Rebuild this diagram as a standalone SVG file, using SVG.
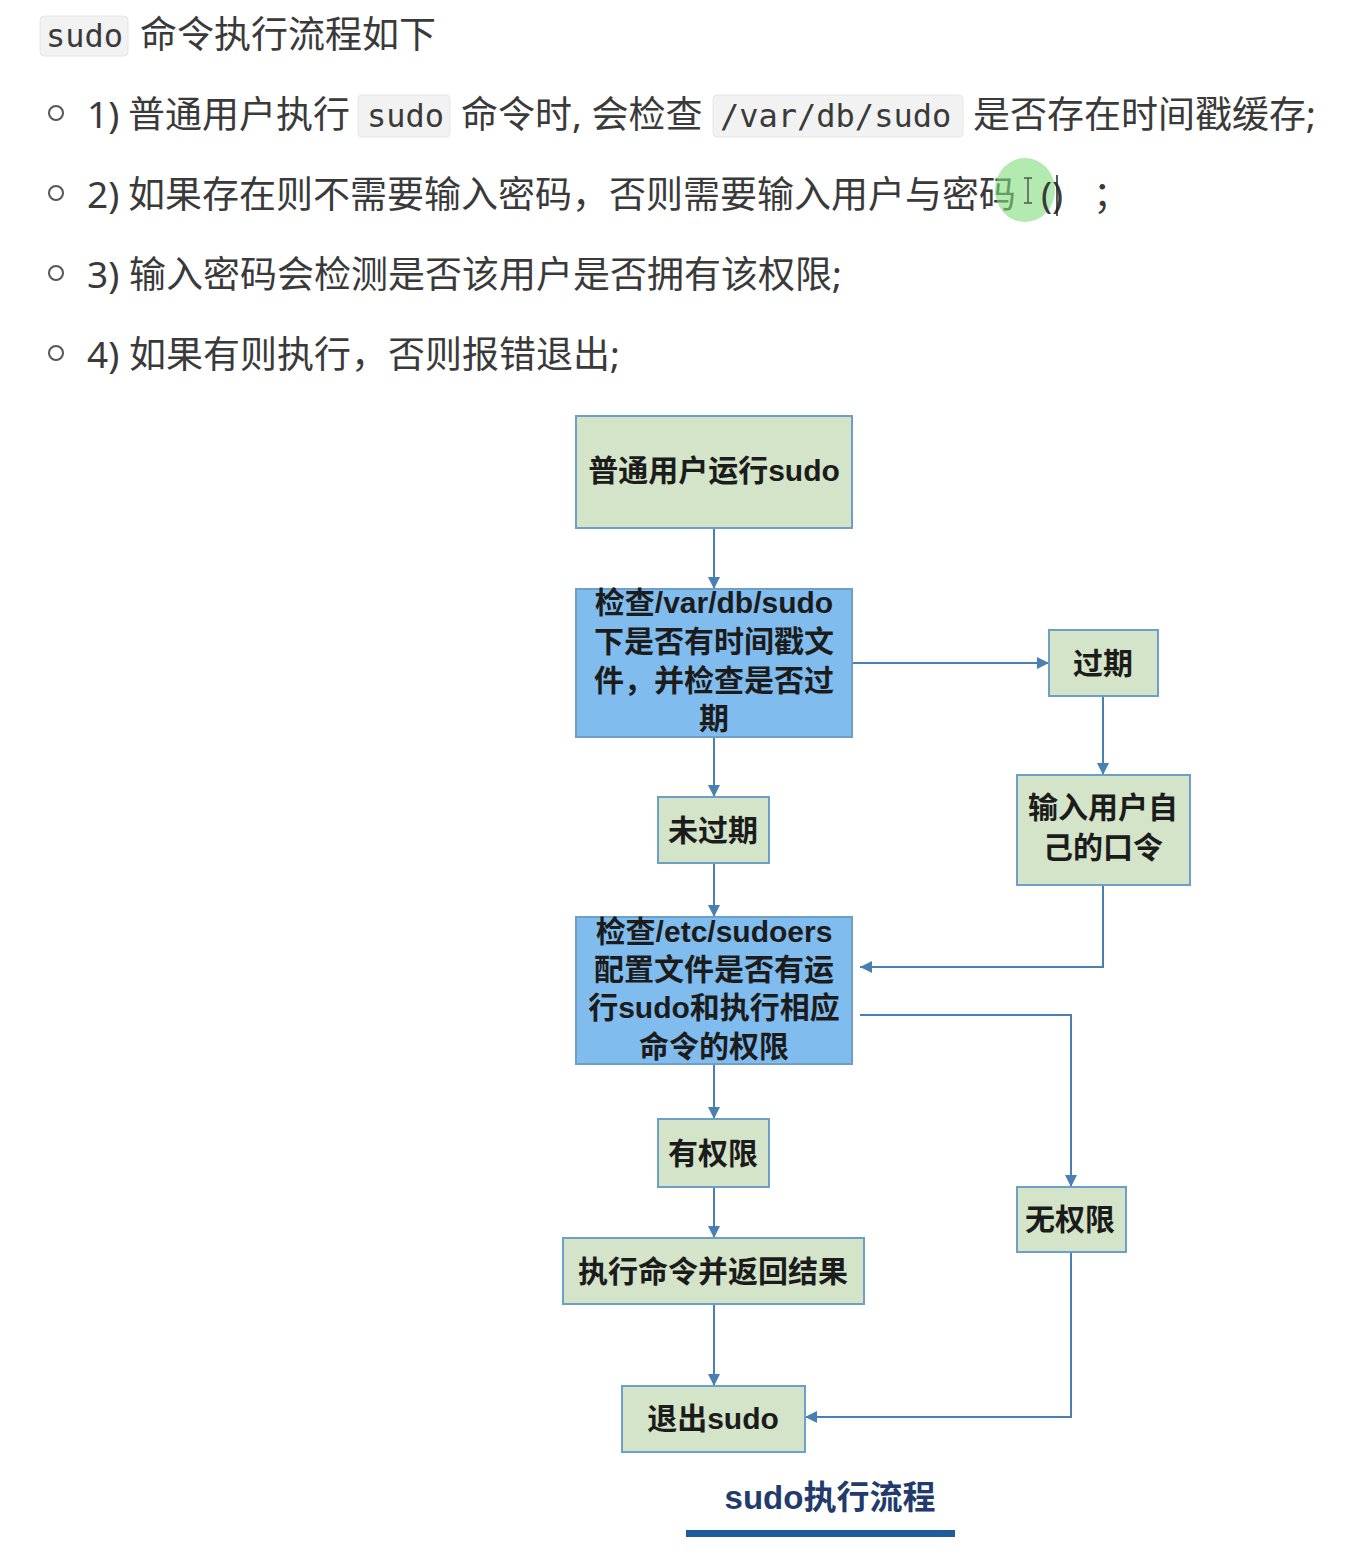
<svg xmlns="http://www.w3.org/2000/svg" width="1359" height="1560" viewBox="0 0 1359 1560">
<style>
.t{font-family:"Noto Sans","Noto Sans CJK SC",sans-serif;font-size:37px;fill:#3a3a3a}
.c{font-family:"DejaVu Sans Mono","Liberation Mono",monospace;font-size:32px;fill:#3a3a3a}
.cb{fill:#f2f2f2;stroke:#e6e6e6;stroke-width:1}
.bul{fill:none;stroke:#555;stroke-width:2}
.g{fill:#d4e4c9;stroke:#6d9fc9;stroke-width:2}
.b{fill:#80bcee;stroke:#6d9fc9;stroke-width:2}
.n{font-family:"Liberation Sans","Noto Sans CJK SC",sans-serif;font-weight:bold;font-size:30px;fill:#1c1c1c;text-anchor:middle}
.e{fill:none;stroke:#4a7fb2;stroke-width:2}
</style>
<defs>
<marker id="ah" viewBox="0 0 10 10" refX="10" refY="5" markerWidth="6" markerHeight="6" orient="auto" markerUnits="strokeWidth">
<path d="M0,0 L10,5 L0,10 z" fill="#4a7fb2"/>
</marker>
</defs>
<rect width="1359" height="1560" fill="#ffffff"/>

<g id="intro">
<rect class="cb" x="40" y="16" width="88" height="40" rx="4"/>
<text class="c" x="46" y="47">sudo</text>
<text class="t" x="140" y="48">命令执行流程如下</text>

<circle class="bul" cx="56" cy="113" r="7"/>
<text class="t" x="87" y="128">1)</text>
<text class="t" x="128" y="128">普通用户执行</text>
<rect class="cb" x="358" y="95" width="92" height="42" rx="4"/>
<text class="c" x="367" y="127">sudo</text>
<text class="t" x="461" y="128">命令时, 会检查</text>
<rect class="cb" x="713" y="95" width="250" height="42" rx="4"/>
<text class="c" x="720" y="127">/var/db/sudo</text>
<text class="t" x="973" y="128">是否存在时间戳缓存;</text>

<circle class="bul" cx="56" cy="193" r="7"/>
<text class="t" x="87" y="208">2)</text>
<text class="t" x="128" y="208">如果存在则不需要输入密码，否则需要输入用户与密码</text>
<ellipse cx="1025" cy="190" rx="30" ry="32" fill="#7fdc7a" opacity="0.6"/>
<path d="M1024,178 h8 M1028,178 v25 M1024,203 h8" fill="none" stroke="#555" stroke-width="1.5"/>
<text class="t" x="1041" y="208">()</text>
<line x1="1057" y1="175" x2="1057" y2="216" stroke="#222" stroke-width="1.5"/>
<text class="t" x="1093" y="208">；</text>

<circle class="bul" cx="56" cy="273" r="7"/>
<text class="t" x="87" y="288">3) 输入密码会检测是否该用户是否拥有该权限;</text>

<circle class="bul" cx="56" cy="353" r="7"/>
<text class="t" x="87" y="368">4) 如果有则执行，否则报错退出;</text>
</g>

<g id="connectors">
<path class="e" d="M714,528 V589" marker-end="url(#ah)"/>
<path class="e" d="M852,663 H1049" marker-end="url(#ah)"/>
<path class="e" d="M1103,696 V775" marker-end="url(#ah)"/>
<path class="e" d="M714,737 V797" marker-end="url(#ah)"/>
<path class="e" d="M714,863 V917" marker-end="url(#ah)"/>
<path class="e" d="M1103,885 V967 H860" marker-end="url(#ah)"/>
<path class="e" d="M860,1015 H1071 V1187" marker-end="url(#ah)"/>
<path class="e" d="M714,1064 V1119" marker-end="url(#ah)"/>
<path class="e" d="M714,1187 V1238" marker-end="url(#ah)"/>
<path class="e" d="M714,1304 V1386" marker-end="url(#ah)"/>
<path class="e" d="M1071,1252 V1417 H805" marker-end="url(#ah)"/>
</g>

<g id="n-start">
<rect class="g" x="576" y="416" width="276" height="112"/>
<text class="n" x="714" y="481">普通用户运行sudo</text>
</g>
<g id="n-check-ts">
<rect class="b" x="576" y="589" width="276" height="148"/>
<text class="n" x="714" y="613">检查/var/db/sudo</text>
<text class="n" x="714" y="652">下是否有时间戳文</text>
<text class="n" x="714" y="691">件，并检查是否过</text>
<text class="n" x="714" y="729">期</text>
</g>
<g id="n-expired">
<rect class="g" x="1049" y="630" width="109" height="66"/>
<text class="n" x="1103" y="674">过期</text>
</g>
<g id="n-input">
<rect class="g" x="1017" y="775" width="173" height="110"/>
<text class="n" x="1103" y="818">输入用户自</text>
<text class="n" x="1103" y="858">己的口令</text>
</g>
<g id="n-valid">
<rect class="g" x="658" y="797" width="111" height="66"/>
<text class="n" x="713" y="841">未过期</text>
</g>
<g id="n-check-sudoers">
<rect class="b" x="576" y="917" width="276" height="147"/>
<text class="n" x="714" y="942">检查/etc/sudoers</text>
<text class="n" x="714" y="980">配置文件是否有运</text>
<text class="n" x="714" y="1018">行sudo和执行相应</text>
<text class="n" x="714" y="1057">命令的权限</text>
</g>
<g id="n-has-perm">
<rect class="g" x="658" y="1119" width="111" height="68"/>
<text class="n" x="713" y="1164">有权限</text>
</g>
<g id="n-exec">
<rect class="g" x="563" y="1238" width="301" height="66"/>
<text class="n" x="713" y="1282">执行命令并返回结果</text>
</g>
<g id="n-no-perm">
<rect class="g" x="1017" y="1187" width="109" height="65"/>
<text class="n" x="1070" y="1230">无权限</text>
</g>
<g id="n-exit">
<rect class="g" x="622" y="1386" width="183" height="66"/>
<text class="n" x="713" y="1429">退出sudo</text>
</g>

<g id="caption">
<text x="830" y="1509" font-family="Liberation Sans,Noto Sans CJK SC,sans-serif" font-weight="bold" font-size="33" fill="#233a6c" text-anchor="middle">sudo执行流程</text>
<rect x="686" y="1530" width="269" height="7" fill="#1f5c9c"/>
</g>
</svg>
